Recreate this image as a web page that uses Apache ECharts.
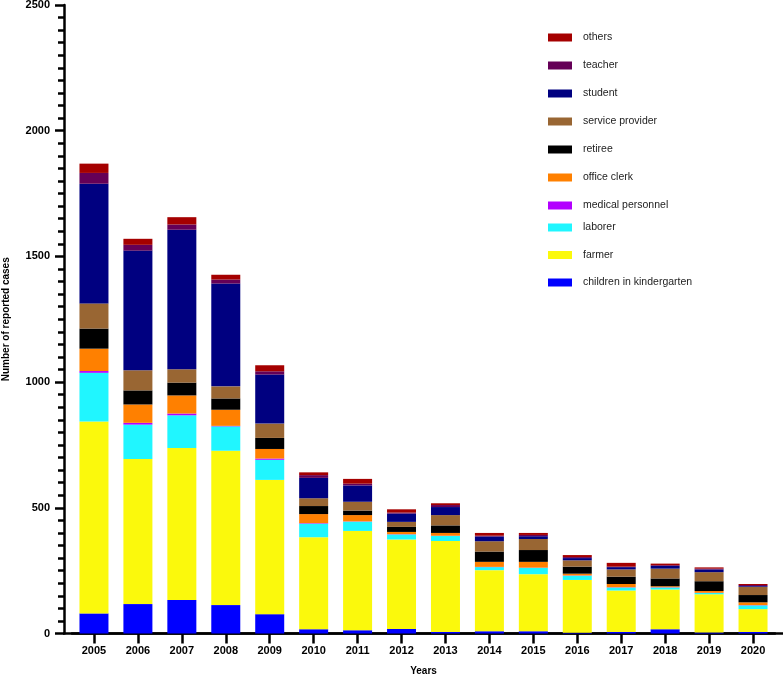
<!DOCTYPE html>
<html>
<head>
<meta charset="utf-8">
<script src="https://cdn.jsdelivr.net/npm/echarts@6/dist/echarts.min.js"></script>
<style>
html,body{margin:0;padding:0;background:#fff;}
#chart{width:784px;height:677px;}
</style>
</head>
<body>
<div id="chart"></div>
<script>
var years = ['2005','2006','2007','2008','2009','2010','2011','2012','2013','2014','2015','2016','2017','2018','2019','2020'];
var seriesNames = ['children in kindergarten','farmer','laborer','medical personnel','office clerk','retiree','service provider','student','teacher','others'];
var seriesColors = ['#0000ff','#fbf90c','#20f6ff','#b300ff','#ff8000','#000000','#996633','#000080','#650057','#a50000'];

var kindergarten = [80,117,133,113,77,17,13,18,6,9,9,3,6,17,4,6];
var farmer       = [763,577,605,614,534,366,395,356,362,243,227,210,165,158,152,91];
var laborer      = [194,137,130,97,80,54,37,20,20,12,25,17,12,8,5,15];
var medical      = [7,7,7,2,5,2,1,1,1,1,1,1,1,1,1,1];
var officeClerk  = [89,73,72,64,38,36,25,9,11,20,23,7,13,4,7,11];
var retiree      = [80,56,51,45,44,32,18,20,30,41,47,28,29,31,39,29];
var service      = [100,80,53,48,57,31,35,20,41,41,44,25,29,39,36,33];
var student      = [476,476,555,409,195,81,65,33,32,19,11,9,9,11,11,3];
var teacher      = [43,23,21,16,13,11,7,4,8,3,5,4,2,3,3,4];
var others       = [37,24,29,19,24,11,19,13,7,11,8,8,15,6,5,4];

var yTicks = [0,500,1000,1500,2000,2500];

var allData = [kindergarten,farmer,laborer,medical,officeClerk,retiree,service,student,teacher,others];

var series = allData.map(function(d,i){
  return {
    name: seriesNames[i],
    type: 'bar',
    stack: 'total',
    data: d,
    barWidth: 29,
    itemStyle: {color: seriesColors[i]},
    emphasis: {disabled: true}
  };
});

var FONT = 'Liberation Sans, Arial, sans-serif';
var legendText = {fontFamily: FONT, fontSize: 10.5, color:'#222', padding:[0,0,0,6]};
var chart = echarts.init(document.getElementById('chart'), null, {renderer:'canvas'});
chart.setOption({
  animation: false,
  backgroundColor: '#ffffff',
  grid: {left: 72, top: 5, width: 703, height: 628.5, containLabel: false, outerBoundsMode: 'none'},
  legend: [{
    data: ['others','teacher','student','service provider','retiree','office clerk','medical personnel'],
    orient: 'vertical', left: 548, top: 32, itemWidth: 24, itemHeight: 8, itemGap: 17,
    icon: 'rect', textStyle: legendText, selectedMode: false, padding: 0
  },{
    data: ['laborer','farmer','children in kindergarten'],
    orient: 'vertical', left: 548, top: 222, itemWidth: 24, itemHeight: 8, itemGap: 16.5,
    icon: 'rect', textStyle: legendText, selectedMode: false, padding: 0
  }],
  xAxis: {
    type: 'category',
    data: years,
    name: 'Years',
    nameLocation: 'middle',
    nameGap: 33,
    nameTextStyle: {fontFamily: FONT, fontWeight:'bold', fontSize:10, color:'#000'},
    axisLine: {show: true, lineStyle: {color:'#000', width: 2.5}},
    axisTick: {show: true, alignWithLabel: true, length: 10, lineStyle: {color:'#000', width: 2.5}},
    axisLabel: {fontFamily: FONT, fontWeight:'bold', fontSize:11, color:'#000', margin: 12},
    splitLine: {show: false}
  },
  yAxis: {
    type: 'value',
    min: 0, max: 2500, interval: 500,
    offset: 8,
    name: 'Number of reported cases',
    nameLocation: 'middle',
    nameGap: 53,
    nameRotate: 90,
    nameTextStyle: {fontFamily: FONT, fontWeight:'bold', fontSize:10, color:'#000'},
    axisLine: {show: true, lineStyle: {color:'#000', width: 2.5}},
    axisTick: {show: true, length: 9, lineStyle: {color:'#000', width: 2.5}},
    minorTick: {show: true, splitNumber: 10, length: 6, lineStyle: {color:'#000', width: 2.5}},
    axisLabel: {fontFamily: FONT, fontWeight:'bold', fontSize:11, color:'#000', margin: 14,
      formatter: function(v){ return yTicks.indexOf(v) >= 0 ? String(v) : ''; }},
    splitLine: {show: false}
  },
  graphic: [{
    type: 'line', silent: true,
    shape: {x1: 63, y1: 633.5, x2: 783, y2: 633.5},
    style: {stroke: '#000', lineWidth: 2.5}
  }],
  series: series
});
</script>
</body>
</html>
